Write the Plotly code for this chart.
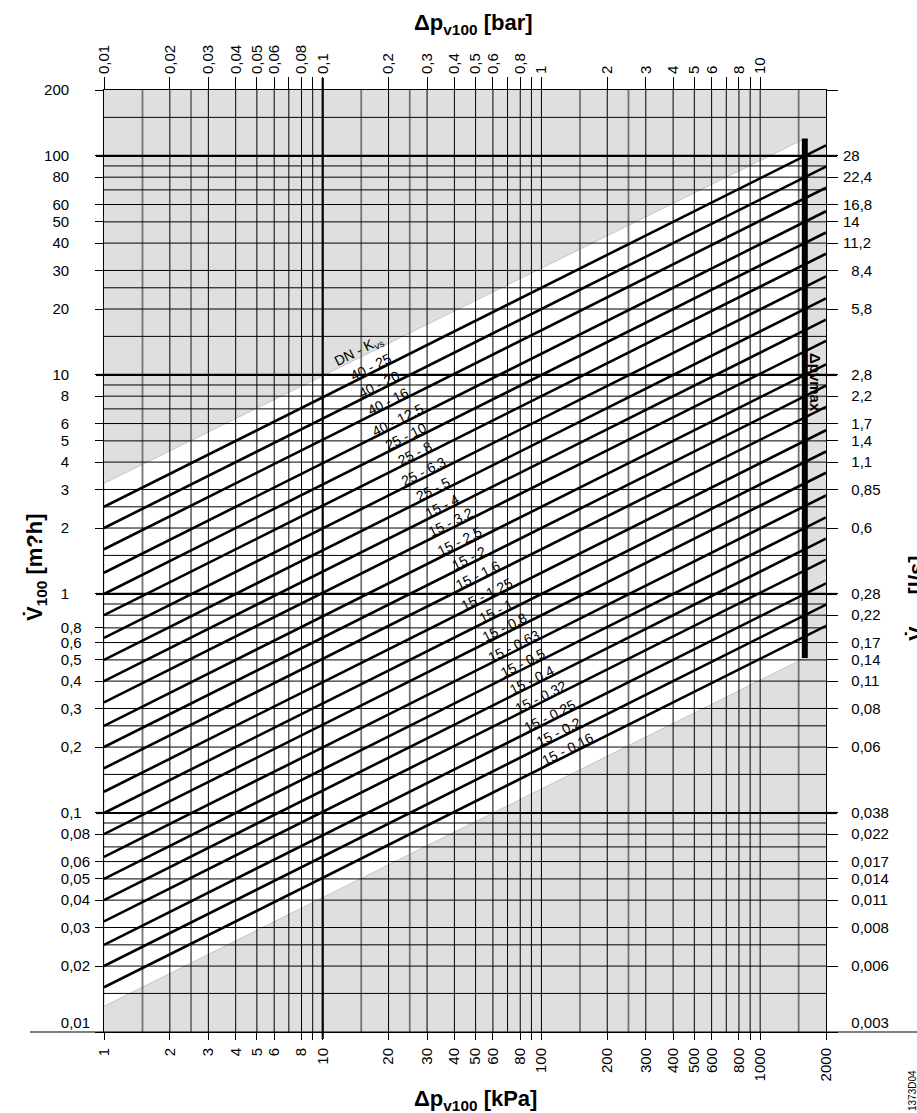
import math
import numpy as np
import plotly.graph_objects as go

# ---- valve characteristic data -------------------------------------------
kvs = [25, 20, 16, 12.5, 10, 8, 6.3, 5, 4, 3.2, 2.5, 2, 1.6, 1.25, 1,
       0.8, 0.63, 0.5, 0.4, 0.32, 0.25, 0.2, 0.16]
kvs_labels = ["40 - 25", "40 - 20", "40 - 16", "40 - 12.5", "25 - 10", "25 - 8",
              "25 - 6.3", "25 - 5", "15 - 4", "15 - 3.2", "15 - 2.5", "15 - 2",
              "15 - 1.6", "15 - 1.25", "15 - 1", "15 - 0.8", "15 - 0.63", "15 - 0.5",
              "15 - 0.4", "15 - 0.32", "15 - 0.25", "15 - 0.2", "15 - 0.16"]

dp_range = [1, 2000]          # kPa
flow_range = [0.01, 200]      # m3/h
dp_vmax = 1600                # kPa, max. differential pressure
band_dp = [1, dp_vmax]        # permitted operating band (white area)
band_upper = [3.2, 120]       # m3/h at band_dp
band_lower = [0.0131, 0.51]   # m3/h at band_dp

# ---- axis ticks -----------------------------------------------------------
bottom_tickvals = [1, 2, 3, 4, 5, 6, 8, 9, 10, 20, 30, 40, 50, 60, 80, 90, 100,
                   200, 300, 400, 500, 600, 800, 900, 1000, 2000]
bottom_ticktext = ["1", "2", "3", "4", "5", "6", "8", "", "10", "20", "30", "40", "50",
                   "60", "80", "", "100", "200", "300", "400", "500", "600", "800", "",
                   "1000", "2000"]
top_tickvals = [0.01, 0.02, 0.03, 0.04, 0.05, 0.06, 0.07, 0.08, 0.09,
                0.1, 0.2, 0.3, 0.4, 0.5, 0.6, 0.7, 0.8, 0.9,
                1, 2, 3, 4, 5, 6, 7, 8, 9, 10]
top_ticktext = ["0,01", "0,02", "0,03", "0,04", "0,05", "0,06", "", "0,08", "",
                "0,1", "0,2", "0,3", "0,4", "0,5", "0,6", "", "0,8", "",
                "1", "2", "3", "4", "5", "6", "", "8", "", "10"]
left_tickvals = [200, 100, 80, 60, 50, 40, 30, 20, 10, 8, 6, 5, 4, 3, 2, 1,
                 0.7, 0.6, 0.5, 0.4, 0.3, 0.2, 0.1, 0.08, 0.06, 0.05, 0.04, 0.03,
                 0.02, 0.01]
left_ticktext = ["200", "100", "80", "60", "50", "40", "30", "20", "10", "8", "6", "5",
                 "4", "3", "2", "1", "0,8", "0,6", "0,5", "0,4", "0,3", "0,2", "0,1",
                 "0,08", "0,06", "0,05", "0,04", "0,03", "0,02", "0,01"]
right_tickvals = [200, 100, 80, 60, 50, 40, 30, 20, 10, 8, 6, 5, 4, 3, 2, 1,
                  0.8, 0.6, 0.5, 0.4, 0.3, 0.2, 0.1, 0.08, 0.06, 0.05, 0.04, 0.03,
                  0.02, 0.01]
right_ticktext = ["", "28", "22,4", "16,8", "14", "11,2", "8,4", "5,8", "2,8", "2,2",
                  "1,7", "1,4", "1,1", "0,85", "0,6", "0,28", "0,22", "0,17", "0,14",
                  "0,11", "0,08", "0,06", "0,038", "0,022", "0,017", "0,014", "0,011",
                  "0,008", "0,006", "0,003"]
grid_multipliers = [1, 1.5, 2, 2.5, 3, 4, 5, 6, 7, 8, 9]

FONT = "Liberation Sans, Arial, sans-serif"
W, H = 917, 1113
ML, MR, MT, MB = 104, 91, 90, 81
PW, PH = W - ML - MR, H - MT - MB
SLOPE_DEG = math.degrees(math.atan(0.5 * PW / math.log10(dp_range[1] / dp_range[0])
                                   / (PH / math.log10(flow_range[1] / flow_range[0]))))

INV = '<span style="color:rgba(0,0,0,0)">{}</span>'


def left_label(s):
    """Pad so that the decimal commas line up (two decimals max)."""
    if s == "":
        return s
    if "," in s:
        frac = s.split(",")[1]
        return s + (INV.format("0" * (2 - len(frac))) if len(frac) < 2 else "")
    return s + INV.format(",00")


def right_label(s):
    """Pad the integer part to two digits so that the commas line up."""
    if s == "":
        return s
    ip = s.split(",")[0]
    return (INV.format("0" * (2 - len(ip))) if len(ip) < 2 else "") + s


left_text = [left_label(t) for t in left_ticktext]
right_text = [right_label(t) for t in right_ticktext]
# the lowest labels sit slightly above the bottom rule
left_text[-1] = left_text[-1] + "<br>" + INV.format("0")
right_text[-1] = right_text[-1] + "<br>" + INV.format("0")


def flow(kv, dp_kpa):
    return kv * np.sqrt(np.asarray(dp_kpa, dtype=float) / 100.0)


def px_to_paper_x(px):
    return (px - ML) / PW


def px_to_paper_y(py):
    return (H - MB - py) / PH


fig = go.Figure()

# white operating band
fig.add_trace(go.Scatter(
    x=[band_dp[0], band_dp[1], band_dp[1], band_dp[0], band_dp[0]],
    y=[band_lower[0], band_lower[1], band_upper[1], band_upper[0], band_lower[0]],
    mode="lines", fill="toself", fillcolor="white",
    line=dict(color="#c4c4c4", width=1), hoverinfo="skip", showlegend=False))


# grid lines
def grid_values(lo, hi):
    vals = []
    d = 10.0 ** math.floor(math.log10(lo))
    while d <= hi:
        for m in grid_multipliers:
            v = round(m * d, 10)
            if lo < v < hi:
                vals.append((v, m))
        d *= 10
    return vals


def seg_x(vals):
    xs, ys = [], []
    for v in vals:
        xs += [v, v, None]
        ys += [flow_range[0], flow_range[1], None]
    return xs, ys


def seg_y(vals):
    xs, ys = [], []
    for v in vals:
        xs += [dp_range[0], dp_range[1], None]
        ys += [v, v, None]
    return xs, ys


vx = grid_values(*dp_range)
hy = grid_values(*flow_range)
vx_black = [v for v, m in vx if m not in (1.5, 2.5) and v != 10]
vx_grey = [v for v, m in vx if m in (1.5, 2.5)]
vx_thick = [v for v, m in vx if v == 10]
hy_thin = [v for v, m in hy if m != 1]
hy_thick = [v for v, m in hy if m == 1]

for xs, ys, col, w in [
    (*seg_x(vx_black), "black", 1),
    (*seg_x(vx_grey), "#737373", 1.8),
    (*seg_x(vx_thick), "black", 2.2),
    (*seg_y(hy_thin), "black", 1),
    (*seg_y(hy_thick), "black", 2.2),
]:
    fig.add_trace(go.Scatter(x=xs, y=ys, mode="lines", line=dict(color=col, width=w),
                             hoverinfo="skip", showlegend=False))

# kvs characteristic lines
for kv in kvs:
    fig.add_trace(go.Scatter(x=dp_range, y=flow(kv, dp_range), mode="lines",
                             line=dict(color="black", width=2.6),
                             hoverinfo="skip", showlegend=False))

# max differential pressure
fig.add_trace(go.Scatter(x=[dp_vmax, dp_vmax], y=[band_lower[1], band_upper[1]],
                         mode="lines", line=dict(color="black", width=6),
                         hoverinfo="skip", showlegend=False))

# carrier trace for the secondary axes
fig.add_trace(go.Scatter(x=[0.1], y=[1], xaxis="x2", yaxis="y2", mode="markers",
                         marker=dict(opacity=0), hoverinfo="skip", showlegend=False))

annotations = []

# line captions along a diagonal staircase
lab_x0, lab_x1 = 373, 570
ang = math.radians(SLOPE_DEG)
off = 5.5
for i, (kv, txt) in enumerate(zip(kvs, kvs_labels)):
    px = lab_x0 + (lab_x1 - lab_x0) * i / (len(kvs) - 1)
    dp = 10 ** ((px - ML) / PW * math.log10(dp_range[1] / dp_range[0]))
    annotations.append(dict(
        x=math.log10(dp), y=math.log10(float(flow(kv, dp))), xref="x", yref="y",
        text=txt, showarrow=False, textangle=-SLOPE_DEG,
        xanchor="center", yanchor="middle",
        xshift=-off * math.sin(ang), yshift=off * math.cos(ang),
        font=dict(family=FONT, size=14, color="black")))

dp_dn = 10 ** ((370 - ML) / PW * math.log10(dp_range[1] / dp_range[0]))
annotations.append(dict(
    x=math.log10(dp_dn), y=math.log10(float(flow(kvs[0], dp_dn))), xref="x", yref="y",
    text="DN - K<sub>vs</sub>", showarrow=False, textangle=-SLOPE_DEG,
    xanchor="center", yanchor="middle",
    xshift=-25 * math.sin(ang), yshift=25 * math.cos(ang),
    font=dict(family=FONT, size=14, color="black")))

title_font = dict(family=FONT, size=22, color="black")
for txt, px, py, angle in [
    ("<b>Δp<sub>v100</sub> [bar]</b>", 473, 24, 0),
    ("<b>Δp<sub>v100</sub> [kPa]</b>", 475, 1100, 0),
    ("<b>V̇<sub>100</sub> [m?h]</b>", 36, 567, -90),
    ("<b>V̇<sub>100</sub> [l/s]</b>", 918, 598, -90),
]:
    annotations.append(dict(x=px_to_paper_x(px), y=px_to_paper_y(py), xref="paper",
                            yref="paper", text=txt, showarrow=False, textangle=angle,
                            xanchor="center", yanchor="middle", font=title_font))

annotations.append(dict(x=px_to_paper_x(816), y=px_to_paper_y(382), xref="paper",
                        yref="paper", text="<b>Δpvmax</b>", showarrow=False,
                        textangle=90, xanchor="center", yanchor="middle",
                        font=dict(family=FONT, size=15, color="black")))
annotations.append(dict(x=px_to_paper_x(912), y=px_to_paper_y(1091), xref="paper",
                        yref="paper", text="1373D04", showarrow=False,
                        textangle=-90, xanchor="center", yanchor="middle",
                        font=dict(family=FONT, size=10, color="black")))

# heavier ticks at the decades and the long base rule
shapes = []
for v in [0.1, 1, 10, 100]:
    shapes.append(dict(type="line", xref="paper", yref="y", x0=-8 / PW, x1=0,
                       y0=v, y1=v, line=dict(color="black", width=2.2)))
    shapes.append(dict(type="line", xref="paper", yref="y", x0=1, x1=1 + 11 / PW,
                       y0=v, y1=v, line=dict(color="black", width=2.2)))
shapes.append(dict(type="line", xref="x", yref="paper", x0=10, x1=10,
                   y0=1, y1=1 + 12 / PH, line=dict(color="black", width=2.2)))
shapes.append(dict(type="line", xref="x", yref="paper", x0=10, x1=10,
                   y0=0, y1=-7 / PH, line=dict(color="black", width=2.2)))
shapes.append(dict(type="line", xref="paper", yref="paper", x0=px_to_paper_x(30),
                   x1=px_to_paper_x(917), y0=0, y1=0, line=dict(color="black", width=1)))

tick_font = dict(family=FONT, size=15, color="black")
common = dict(type="log", showgrid=False, zeroline=False, showline=True,
              linecolor="black", linewidth=1, ticks="outside", tickcolor="black",
              tickwidth=1, tickfont=tick_font, tickmode="array")

fig.update_layout(
    width=W, height=H,
    margin=dict(l=ML, r=MR, t=MT, b=MB, autoexpand=False),
    paper_bgcolor="white", plot_bgcolor="#dfdfdf",
    showlegend=False,
    xaxis=dict(**common, range=[math.log10(dp_range[0]), math.log10(dp_range[1])],
               tickvals=bottom_tickvals, ticktext=bottom_ticktext, ticklen=7,
               tickangle=-90, ticklabelstandoff=2),
    xaxis2=dict(**common, overlaying="x", side="top",
                range=[math.log10(dp_range[0] / 100), math.log10(dp_range[1] / 100)],
                tickvals=top_tickvals, ticktext=top_ticktext, ticklen=12,
                tickangle=-90, ticklabelstandoff=0),
    yaxis=dict(**common, range=[math.log10(flow_range[0]), math.log10(flow_range[1])],
               tickvals=left_tickvals, ticktext=left_text, ticklen=8,
               ticklabelstandoff=2),
    yaxis2=dict(**common, overlaying="y", side="right",
                range=[math.log10(flow_range[0]), math.log10(flow_range[1])],
                tickvals=right_tickvals, ticktext=right_text, ticklen=11,
                ticklabelstandoff=2),
    annotations=annotations,
    shapes=shapes,
)

fig.write_html("out.html")
